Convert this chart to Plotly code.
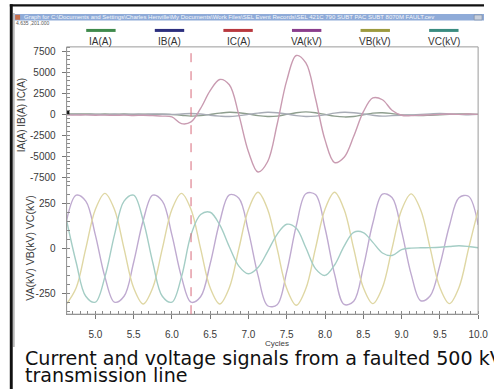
import plotly.graph_objects as go

W, H = 494, 389

# ---------------- data ----------------
cycles = [4.625, 4.75, 4.875, 5.0, 5.125, 5.25, 5.375, 5.5, 5.625, 5.75, 5.875, 6.0,
          6.125, 6.25, 6.375, 6.5, 6.625, 6.75, 6.875, 7.0, 7.125, 7.25, 7.375, 7.5,
          7.625, 7.75, 7.875, 8.0, 8.125, 8.25, 8.375, 8.5, 8.625, 8.75, 8.875, 9.0,
          9.125, 9.25, 9.375, 9.5, 9.625, 9.75, 9.875, 10.0]

ia_a = [60, 40, 60, 30, 50, 20, 40, 10, 30, 0, 20, -30, -100, -200, -150, 0, 150, 250,
        200, 50, -150, -250, -200, 0, 200, 300, 200, 0, -200, -300, -250, -50, 150, 200,
        100, -50, -100, -150, -100, -50, 0, 50, 50, 0]
ib_a = [-20, 0, -30, 10, -20, 20, -10, 30, 0, 40, 20, 10, 50, 100, 50, -100, -200, -250,
        -150, 0, 150, 250, 200, 50, -150, -250, -200, -50, 150, 250, 200, 50, -100, -200,
        -150, -100, -50, 0, 50, 100, 50, 0, -50, 0]
ic_a = [-50, -80, -60, -100, -80, -120, -90, -130, -100, -150, -200, -300, -1100, -900,
        711, 2827, 4172, 3533, -57, -4455, -6877, -5648, -1177, 4030, 7037, 6145, 1929,
        -3042, -5745, -5104, -2611, 293, 1969, 1750, 500, -100, -150, -100, -50, 0, 50,
        0, 50, 0]

va_kv = [157, 298, 265, 77, -157, -298, -265, -77, 157, 298, 265, 77, -157, -298, -268,
         -84, 150, 300, 281, 96, -149, -318, -312, -128, 128, 306, 302, 115, -142, -311,
         -293, -104, 143, 304, 285, 98, -142, -290, -262, -93, 128, 284, 292, 132]
vb_kv = [-308, -218, 0, 218, 308, 218, 0, -218, -308, -218, 0, 218, 308, 218, 0, -218,
         -308, -218, 0, 218, 314, 220, 0, -222, -315, -222, 0, 220, 314, 218, 0, -216,
         -306, -216, 0, 215, 305, 215, 0, -216, -306, -216, 0, 216]
vc_kv = [157, -77, -265, -298, -157, 77, 265, 298, 157, -77, -265, -298, -157, 77, 190,
         203, 132, 11, -97, -140, -105, -16, 80, 136, 114, 5, -111, -149, -91, 14, 91, 90,
         35, -24, -38, -5, 3, 5, 6, 8, 12, 16, 12, 5]

trigger_cycle = 6.25
cursor_cycle = 4.635
cursor_value = 201.0

legend_names = ["IA(A)", "IB(A)", "IC(A)", "VA(kV)", "VB(kV)", "VC(kV)"]
legend_colors = ["#3f8a4c", "#2c2f7e", "#b8383e", "#8a3d8c", "#9c9a3e", "#3a8c80"]
line_colors = ["#8e9e8e", "#a8acb6", "#c99bb1", "#bfaad0", "#dfd7a4", "#a4cdc5"]

top_ticks = [7500, 5000, 2500, 0, -2500, -5000, -7500]
top_ticktext = ["7500", "5000", "2500", "0", "-2500", "-5000", "-7500"]
bot_ticks = [250, 0, -250]
bot_ticktext = ["250", "0", "-250"]
x_ticks = [5.0, 5.5, 6.0, 6.5, 7.0, 7.5, 8.0, 8.5, 9.0, 9.5, 10.0]
x_ticktext = ["5.0", "5.5", "6.0", "6.5", "7.0", "7.5", "8.0", "8.5", "9.0", "9.5", "10.0"]

title_text = ("Graph for C:\\Documents and Settings\\Charles Henville\\My Documents\\"
              "Work Files\\SEL Event Records\\SEL 421C 790 SUBT PAC SUBT 8070M FAULT.cev")
cursor_text = "4.635 ,201.000"
top_title = "IA(A) IB(A) IC(A)"
bot_title = "VA(kV) VB(kV) VC(kV)"
x_title = "Cycles"
caption_1 = "Current and voltage signals from a faulted 500 kV"
caption_2 = "transmission line"


# ---------------- layout helpers (pixel -> paper) ----------------
def px(x):
    return x / W


def py(y):
    return 1 - y / H


PL, PR, PT, PM, PB = 68, 488, 46, 183.7, 314
FONT = "Liberation Sans, Arial, sans-serif"

fig = go.Figure()

currents = [ia_a, ib_a, ic_a]
voltages = [va_kv, vb_kv, vc_kv]
for i, ser in enumerate(currents):
    fig.add_trace(go.Scatter(x=cycles, y=ser, mode="lines", xaxis="x", yaxis="y",
                             name=legend_names[i],
                             line=dict(color=line_colors[i], width=1.4, shape="spline",
                                       smoothing=1.0)))
for i, ser in enumerate(voltages):
    fig.add_trace(go.Scatter(x=cycles, y=ser, mode="lines", xaxis="x", yaxis="y2",
                             name=legend_names[3 + i],
                             line=dict(color=line_colors[3 + i], width=1.4, shape="spline",
                                       smoothing=1.0)))

fig.add_trace(go.Scatter(x=[cursor_cycle], y=[cursor_value], mode="markers", xaxis="x",
                         yaxis="y", marker=dict(symbol="square", size=4, color="#111"),
                         hoverinfo="skip"))

tickfont = dict(family=FONT, size=10, color="#3a3a3a")

fig.update_layout(
    width=W, height=H, margin=dict(l=0, r=0, t=0, b=0),
    paper_bgcolor="white", plot_bgcolor="white", showlegend=False,
    xaxis=dict(domain=[px(PL), px(PR)], range=[4.625, 10.0], anchor="y2",
               tickmode="array", tickvals=x_ticks, ticktext=x_ticktext,
               ticks="outside", ticklen=4, tickcolor="#777", ticklabelstandoff=7,
               ticklabeloverflow="allow",
               showline=True, linecolor="#888", linewidth=1,
               minor=dict(dtick=0.1, tick0=0, ticks="inside", ticklen=3, tickcolor="#888"),
               showgrid=False, zeroline=False, tickfont=tickfont),
    yaxis=dict(domain=[py(PM), py(PT)], range=[-8333, 8060], anchor="x",
               tickmode="array", tickvals=top_ticks, ticktext=top_ticktext,
               ticks="outside", ticklen=4, tickcolor="#777", ticklabelstandoff=4,
               showline=True, linecolor="#888", linewidth=1,
               minor=dict(dtick=500, tick0=0, ticks="inside", ticklen=3, tickcolor="#888"),
               showgrid=False, zeroline=False, tickfont=tickfont),
    yaxis2=dict(domain=[py(PB), py(PM)], range=[-365, 359], anchor="x",
                tickmode="array", tickvals=bot_ticks, ticktext=bot_ticktext,
                ticks="outside", ticklen=4, tickcolor="#777", ticklabelstandoff=4,
                showline=True, linecolor="#888", linewidth=1,
                minor=dict(dtick=50, tick0=0, ticks="inside", ticklen=3, tickcolor="#888"),
                showgrid=False, zeroline=False, tickfont=tickfont),
)

shapes = [
    # screenshot frame
    dict(type="rect", xref="paper", yref="paper", x0=px(10), x1=1.0, y0=py(5.5), y1=py(3.3),
         fillcolor="#111", line=dict(width=0), layer="above"),
    dict(type="rect", xref="paper", yref="paper", x0=px(10), x1=px(13), y0=0, y1=py(3.3),
         fillcolor="#111", line=dict(width=0), layer="above"),
    dict(type="line", xref="paper", yref="paper", x0=px(14.2), x1=px(14.2), y0=py(347),
         y1=py(12), line=dict(color="#9a9a9a", width=1.2)),
    # window title bar
    dict(type="rect", xref="paper", yref="paper", x0=px(15), x1=1.0, y0=py(19.5), y1=py(13),
         fillcolor="#8fabd8", line=dict(width=0)),
    dict(type="rect", xref="paper", yref="paper", x0=px(15.5), x1=px(20.5), y0=py(18.8),
         y1=py(13.8), fillcolor="#c8704c", line=dict(width=0)),
    dict(type="rect", xref="paper", yref="paper", x0=px(484), x1=px(492), y0=py(19),
         y1=py(14), fillcolor="#c9d0dc", line=dict(color="#7a889e", width=0.6)),
    # plot frame
    dict(type="rect", xref="paper", yref="paper", x0=px(PL), x1=px(PR), y0=py(PB), y1=py(PT),
         line=dict(color="#9a9a9a", width=1)),
    # trigger line
    dict(type="line", xref="x", yref="paper", x0=trigger_cycle, x1=trigger_cycle,
         y0=py(PB), y1=py(PT), line=dict(color="#d86a7a", width=1, dash="dash")),
]

legend_centers = [103, 173, 243, 313, 383, 453]
annotations = []
for name, col, cx in zip(legend_names, legend_colors, legend_centers):
    shapes.append(dict(type="line", xref="paper", yref="paper", x0=px(cx - 15), x1=px(cx + 15),
                       y0=py(29.5), y1=py(29.5), line=dict(color=col, width=3)))
    annotations.append(dict(text=name, x=px(cx), y=py(41), xref="paper", yref="paper",
                            xanchor="center", yanchor="middle", showarrow=False,
                            font=dict(family=FONT, size=10, color="#333")))

annotations += [
    dict(text=title_text, x=px(22), y=py(16.3), xref="paper", yref="paper", xanchor="left",
         yanchor="middle", showarrow=False, font=dict(family=FONT, size=6, color="#f4f6fb")),
    dict(text=cursor_text, x=px(14), y=py(22.5), xref="paper", yref="paper", xanchor="left",
         yanchor="middle", showarrow=False, font=dict(family=FONT, size=5, color="#555")),
    dict(text=top_title, x=px(22), y=py(115), xref="paper", yref="paper", textangle=-90,
         xanchor="center", yanchor="middle", showarrow=False,
         font=dict(family=FONT, size=10, color="#3a3a3a")),
    dict(text=bot_title, x=px(31), y=py(248), xref="paper", yref="paper", textangle=-90,
         xanchor="center", yanchor="middle", showarrow=False,
         font=dict(family=FONT, size=10.5, color="#3a3a3a")),
    dict(text=x_title, x=px(283), y=py(343), xref="paper", yref="paper", xanchor="center",
         yanchor="middle", showarrow=False, font=dict(family=FONT, size=8, color="#3a3a3a")),
    dict(text=caption_1, x=px(23), y=py(358.4), xref="paper", yref="paper", xanchor="left",
         yanchor="middle", showarrow=False,
         font=dict(family="DejaVu Sans", size=19.1, color="#111")),
    dict(text=caption_2, x=px(23), y=py(375.1), xref="paper", yref="paper", xanchor="left",
         yanchor="middle", showarrow=False,
         font=dict(family="DejaVu Sans", size=19.1, color="#111")),
]

fig.update_layout(shapes=shapes, annotations=annotations)
fig.write_html("out.html", config={"displayModeBar": False},
               post_script="document.body.style.margin='0';document.body.style.padding='0';")
